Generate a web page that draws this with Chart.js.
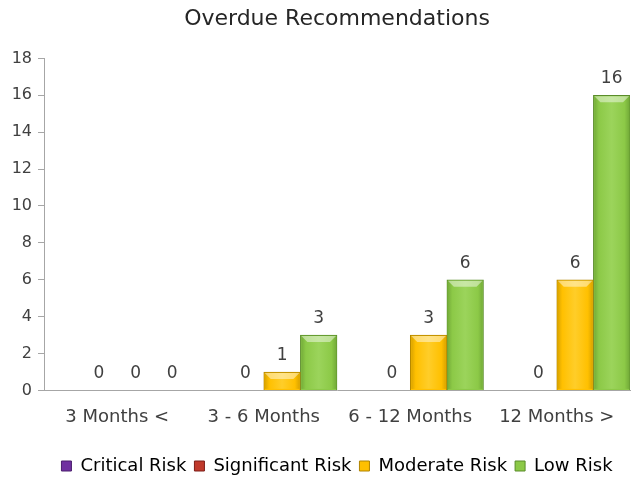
<!DOCTYPE html>
<html>
<head>
<meta charset="utf-8">
<script src="https://cdn.jsdelivr.net/npm/chart.js@4"></script>
<style>
  html, body { margin: 0; padding: 0; background: #fff; }
  #wrap { width: 642px; height: 482px; }
</style>
</head>
<body>
<div id="wrap"><canvas id="chart-0"></canvas></div>
<script>
// Data
var categories = ["3 Months <", "3 - 6 Months", "6 - 12 Months", "12 Months >"];
var criticalRisk = [null, null, null, null];
var significantRisk = [0, 0, 0, 0];
var moderateRisk = [0, 1, 3, 6];
var lowRisk = [0, 3, 6, 16];
var yTicks = [0, 2, 4, 6, 8, 10, 12, 14, 16, 18];

var FONT = "'DejaVu Sans', sans-serif";

// Colours per series: fill, highlight, border
var styles = [
    {fill: "#7030a0", light: "#9a5cd0", border: "#4b1f6e"},
    {fill: "#c0392b", light: "#e0605a", border: "#7d1e18"},
    {fill: "#ffc000", light: "#ffd84a", border: "#b08400"},
    {fill: "#8cc947", light: "#a8dd6c", border: "#5a8c2a"}
];

// Draws the bevel look over each bar
var bevelPlugin = {
    id: "bevel",
    afterDatasetsDraw: function(chart){
        var ctx = chart.ctx;
        chart.data.datasets.forEach(function(ds, di){
            var meta = chart.getDatasetMeta(di);
            var st = styles[di];
            meta.data.forEach(function(bar, i){
                if(ds.data[i] === null || ds.data[i] === 0) return;
                var p = bar.getProps(["x", "y", "base", "width"], true);
                var left = p.x - p.width / 2, right = p.x + p.width / 2;
                var top = p.y, bottom = p.base;
                var b = Math.min(6, (bottom - top) / 2);
                ctx.save();
                // side shading
                var g = ctx.createLinearGradient(left, 0, right, 0);
                g.addColorStop(0, st.border);
                g.addColorStop(0.15, st.fill);
                g.addColorStop(0.5, st.light);
                g.addColorStop(0.85, st.fill);
                g.addColorStop(1, st.border);
                ctx.fillStyle = g;
                ctx.globalAlpha = 0.55;
                ctx.fillRect(left + 1, top + 1, right - left - 2, bottom - top - 2);
                // top bevel
                ctx.globalAlpha = 0.45;
                ctx.fillStyle = "#ffffff";
                ctx.beginPath();
                ctx.moveTo(left + 1, top + 1);
                ctx.lineTo(right - 1, top + 1);
                ctx.lineTo(right - 1 - b, top + 1 + b);
                ctx.lineTo(left + 1 + b, top + 1 + b);
                ctx.closePath();
                ctx.fill();
                ctx.restore();
            });
        });
    }
};

// Value labels above bars
var labelPlugin = {
    id: "valueLabels",
    afterDatasetsDraw: function(chart){
        var ctx = chart.ctx;
        ctx.save();
        ctx.font = "17px " + FONT;
        ctx.fillStyle = "#404040";
        ctx.textAlign = "center";
        ctx.textBaseline = "bottom";
        chart.data.datasets.forEach(function(ds, di){
            var meta = chart.getDatasetMeta(di);
            meta.data.forEach(function(bar, i){
                if(ds.data[i] === null) return;
                ctx.fillText(String(ds.data[i]), bar.x, bar.y - 8);
            });
        });
        ctx.restore();
    }
};

// Legend box a bit shorter so items sit lower
var legendFit = {
    id: "legendFit",
    afterInit: function(chart){
        var lg = chart.legend;
        var fit = lg.fit;
        lg.fit = function(){
            fit.call(this);
            this.height -= 3;
        };
    }
};

var makeSet = function(label, values, i){
    return {
        label: label,
        data: values,
        backgroundColor: styles[i].fill,
        borderColor: styles[i].border,
        borderWidth: 1,
        categoryPercentage: 1.0,
        barPercentage: 1.0
    };
};

var chart = new Chart(document.getElementById("chart-0"), {
    type: "bar",
    data: {
        labels: categories,
        datasets: [
            makeSet("Critical Risk", criticalRisk, 0),
            makeSet("Significant Risk", significantRisk, 1),
            makeSet("Moderate Risk", moderateRisk, 2),
            makeSet("Low Risk", lowRisk, 3)
        ]
    },
    options: {
        responsive: true,
        maintainAspectRatio: false,
        animation: false,
        layout: {padding: {left: 0, right: 12, top: 6, bottom: 0}},
        plugins: {
            title: {
                display: true,
                fullSize: false,
                text: "Overdue Recommendations",
                color: "#262626",
                font: {family: FONT, size: 22, weight: "normal"},
                padding: {top: 0, bottom: 26}
            },
            legend: {
                position: "bottom",
                fullSize: false,
                labels: {
                    color: "#404040",
                    font: {family: FONT, size: 18},
                    boxWidth: 10,
                    boxHeight: 10,
                    padding: 8,
                    generateLabels: function(c){
                        return c.data.datasets.map(function(ds, i){
                            return {
                                text: ds.label,
                                fillStyle: styles[i].fill,
                                strokeStyle: styles[i].border,
                                lineWidth: 1,
                                datasetIndex: i
                            };
                        });
                    }
                }
            },
            tooltip: {enabled: false}
        },
        scales: {
            x: {
                grid: {display: false},
                border: {color: "#a6a6a6", width: 1},
                ticks: {color: "#404040", font: {family: FONT, size: 18}, padding: 8, maxRotation: 0},
                afterFit: function(axis){ axis.height += 13; }
            },
            y: {
                min: 0,
                max: 18,
                afterBuildTicks: function(axis){
                    axis.ticks = yTicks.map(function(v){ return {value: v}; });
                },
                afterFit: function(axis){ axis.width = 44; },
                grid: {drawOnChartArea: false, tickLength: 6, color: "#a6a6a6"},
                border: {color: "#a6a6a6", width: 1},
                ticks: {color: "#404040", font: {family: FONT, size: 16}, padding: 6}
            }
        }
    },
    plugins: [bevelPlugin, labelPlugin, legendFit]
});
</script>
</body>
</html>
